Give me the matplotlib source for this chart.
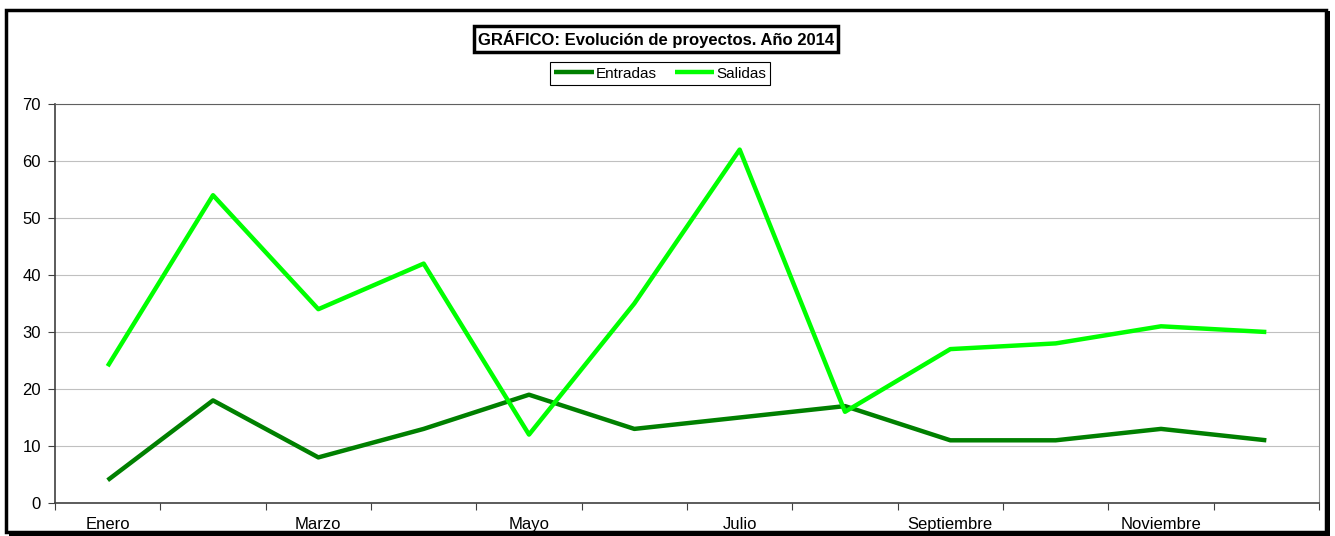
import matplotlib.pyplot as plt
from matplotlib.patches import Rectangle

plt.rcParams['font.family'] = ['Liberation Sans', 'DejaVu Sans']

# data
meses = ["Enero", "Febrero", "Marzo", "Abril", "Mayo", "Junio", "Julio",
         "Agosto", "Septiembre", "Octubre", "Noviembre", "Diciembre"]
entradas = [4, 18, 8, 13, 19, 13, 15, 17, 11, 11, 13, 11]
salidas = [24, 54, 34, 42, 12, 35, 62, 16, 27, 28, 31, 30]

W, H = 1335, 536
fig = plt.figure(figsize=(W / 100, H / 100), dpi=100)

# outer frame with shadow
fig.patches.append(Rectangle((9 / W, 1 - 536 / H), 1321 / W, 525 / H,
                             transform=fig.transFigure, facecolor="black",
                             edgecolor="none", zorder=0))
fig.patches.append(Rectangle((6 / W, 1 - 532 / H), 1320 / W, 522 / H,
                             transform=fig.transFigure, facecolor="white",
                             edgecolor="black", lw=2.5, zorder=1))

ax = fig.add_axes([55 / W, (H - 503) / H, 1264 / W, 399 / H])
ax.set_zorder(2)
ax.patch.set_alpha(0)

x = list(range(len(meses)))
ax.plot(x, entradas, color="#008000", lw=3.2, label="Entradas", solid_capstyle="butt", zorder=3)
ax.plot(x, salidas, color="#00FF00", lw=3.2, label="Salidas", solid_capstyle="butt", zorder=3)

ax.set_xlim(-0.5, len(meses) - 0.5)
ax.set_ylim(0, 70)
ax.set_yticks(range(0, 71, 10))
ax.yaxis.grid(True, color="#c0c0c0", lw=0.8)
ax.set_axisbelow(True)

# ticks between categories, labels every other month
ax.set_xticks([i - 0.5 for i in range(len(meses) + 1)])
ax.set_xticklabels([])
ax.set_xticks(x[::2], minor=True)
ax.set_xticklabels(meses[::2], minor=True, va="baseline")
ax.tick_params(axis="x", which="major", direction="out", length=5, color="#404040")
ax.tick_params(axis="x", which="minor", length=0, pad=18.5, labelsize=12)
ax.tick_params(axis="y", direction="out", length=5, color="#404040", labelsize=12, pad=5)

for side in ["left", "bottom"]:
    ax.spines[side].set_color("#404040")
    ax.spines[side].set_linewidth(1.2)
ax.spines["top"].set_color("#606060")
ax.spines["right"].set_color("#909090")

fig.text(656 / W, 1 - 39 / H, "GRÁFICO: Evolución de proyectos. Año 2014",
         ha="center", va="center", fontsize=12, fontweight="bold", zorder=5,
         bbox=dict(boxstyle="square,pad=0.22", facecolor="white",
                   edgecolor="black", lw=2.5))

leg = fig.legend(loc="center", bbox_to_anchor=(660 / W, 1 - 73.5 / H), ncol=2,
                 fancybox=False, edgecolor="black", fontsize=11, framealpha=1,
                 handlelength=2.6, handletextpad=0.1, columnspacing=1.2,
                 borderpad=0.3)
leg.get_frame().set_linewidth(0.8)
leg.set_zorder(5)

fig.savefig("out.png", dpi=100)
